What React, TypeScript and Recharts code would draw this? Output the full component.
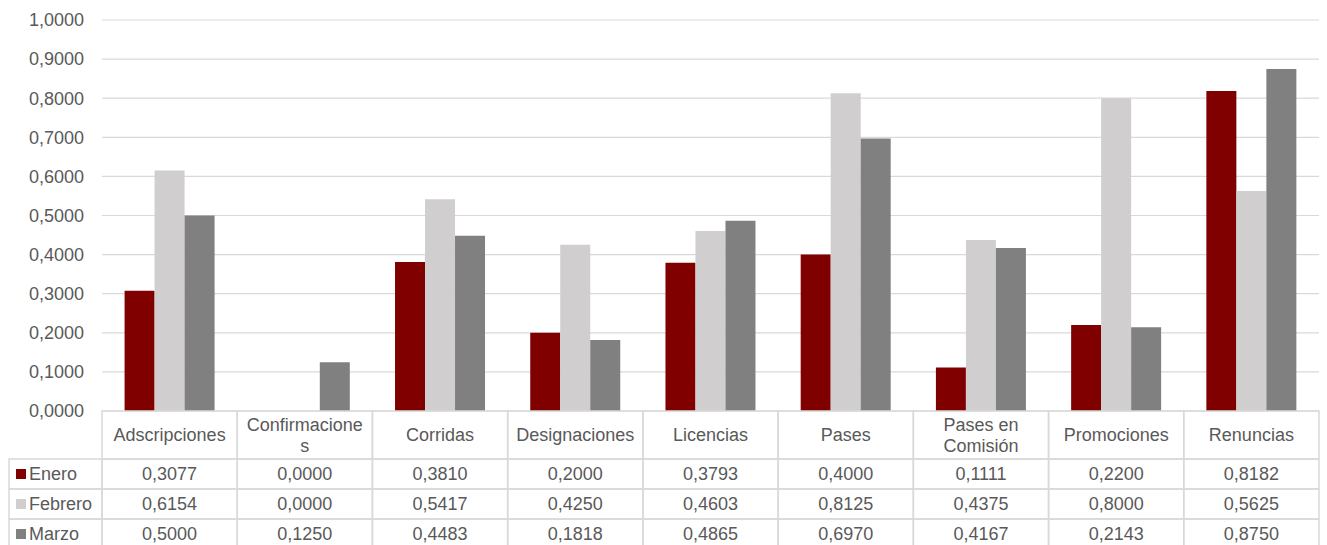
import { BarChart, Bar, XAxis, YAxis, CartesianGrid } from 'recharts';

const categories = [
  'Adscripciones', 'Confirmaciones', 'Corridas', 'Designaciones', 'Licencias',
  'Pases', 'Pases en Comisión', 'Promociones', 'Renuncias',
];
// cómo se parte cada encabezado en la tabla
const headerLines = [
  ['Adscripciones'], ['Confirmacione', 's'], ['Corridas'], ['Designaciones'], ['Licencias'],
  ['Pases'], ['Pases en', 'Comisión'], ['Promociones'], ['Renuncias'],
];
const enero = [0.3077, 0.0, 0.381, 0.2, 0.3793, 0.4, 0.1111, 0.22, 0.8182];
const febrero = [0.6154, 0.0, 0.5417, 0.425, 0.4603, 0.8125, 0.4375, 0.8, 0.5625];
const marzo = [0.5, 0.125, 0.4483, 0.1818, 0.4865, 0.697, 0.4167, 0.2143, 0.875];
const yTicks = [0, 0.1, 0.2, 0.3, 0.4, 0.5, 0.6, 0.7, 0.8, 0.9, 1.0];

const series = [
  { key: 'enero', label: 'Enero', color: '#800000', values: enero },
  { key: 'febrero', label: 'Febrero', color: '#d0cece', values: febrero },
  { key: 'marzo', label: 'Marzo', color: '#808080', values: marzo },
];

const data = categories.map((name, i) => ({
  name,
  enero: enero[i],
  febrero: febrero[i],
  marzo: marzo[i],
}));

const W = 1327;
const H = 545;
const PLOT_LEFT = 102;
const PLOT_RIGHT = 1319;
const PLOT_TOP = 20;
const PLOT_BOTTOM = 411;
const HEADER_H = 48;
const ROW_H = 30;
const COL_W = (PLOT_RIGHT - PLOT_LEFT) / categories.length;
const FONT = '"Liberation Sans", Arial, sans-serif';
const TEXT = '#595959';
const BORDER = '#d9d9d9';

const fmt = (v: number) => v.toFixed(4).replace('.', ',');

// dibuja la columna de la tabla de datos debajo de cada categoría
const TableTick = (props: any) => {
  const { x, index } = props;
  const left = x - COL_W / 2;
  const lines = headerLines[index];
  const rowsTop = PLOT_BOTTOM + HEADER_H;
  return (
    <g fontFamily={FONT} fontSize={18} fill={TEXT}>
      <rect x={left} y={PLOT_BOTTOM} width={COL_W} height={HEADER_H} fill="none" stroke={BORDER} strokeWidth={1.5} />
      {lines.map((l, j) => (
        <text
          key={j}
          x={x}
          y={PLOT_BOTTOM + HEADER_H / 2 + (j - (lines.length - 1) / 2) * 21}
          textAnchor="middle"
          dominantBaseline="central"
        >
          {l}
        </text>
      ))}
      {series.map((s, r) => (
        <g key={s.key}>
          <rect x={left} y={rowsTop + r * ROW_H} width={COL_W} height={ROW_H} fill="none" stroke={BORDER} strokeWidth={1.5} />
          <text x={x} y={rowsTop + r * ROW_H + ROW_H / 2} textAnchor="middle" dominantBaseline="central">
            {fmt(s.values[index])}
          </text>
        </g>
      ))}
      {index === 0 &&
        series.map((s, r) => (
          <g key={'leg' + s.key}>
            <rect x={9} y={rowsTop + r * ROW_H} width={PLOT_LEFT - 9} height={ROW_H} fill="none" stroke={BORDER} strokeWidth={1.5} />
            <rect x={16} y={rowsTop + r * ROW_H + 10} width={10} height={10} fill={s.color} />
            <text x={29} y={rowsTop + r * ROW_H + ROW_H / 2} dominantBaseline="central">
              {s.label}
            </text>
          </g>
        ))}
    </g>
  );
};

export default function App() {
  return (
    <div style={{ position: 'absolute', left: 0, top: 0, width: W, height: H, background: '#fff' }}>
      <BarChart
        width={W}
        height={H}
        data={data}
        margin={{ top: PLOT_TOP, right: W - PLOT_RIGHT, left: 0, bottom: 0 }}
        barGap={0}
        barCategoryGap="16.7%"
      >
        <CartesianGrid vertical={false} stroke={BORDER} strokeWidth={1.2} />
        <YAxis
          width={PLOT_LEFT}
          domain={[0, 1]}
          ticks={yTicks}
          tickFormatter={fmt}
          axisLine={false}
          tickLine={false}
          tickMargin={12}
          tick={{ fill: TEXT, fontSize: 18, fontFamily: FONT }}
        />
        <XAxis
          dataKey="name"
          height={H - PLOT_BOTTOM}
          interval={0}
          axisLine={false}
          tickLine={false}
          tick={<TableTick />}
        />
        {series.map((s) => (
          <Bar key={s.key} dataKey={s.key} name={s.label} fill={s.color} isAnimationActive={false} />
        ))}
      </BarChart>
    </div>
  );
}
